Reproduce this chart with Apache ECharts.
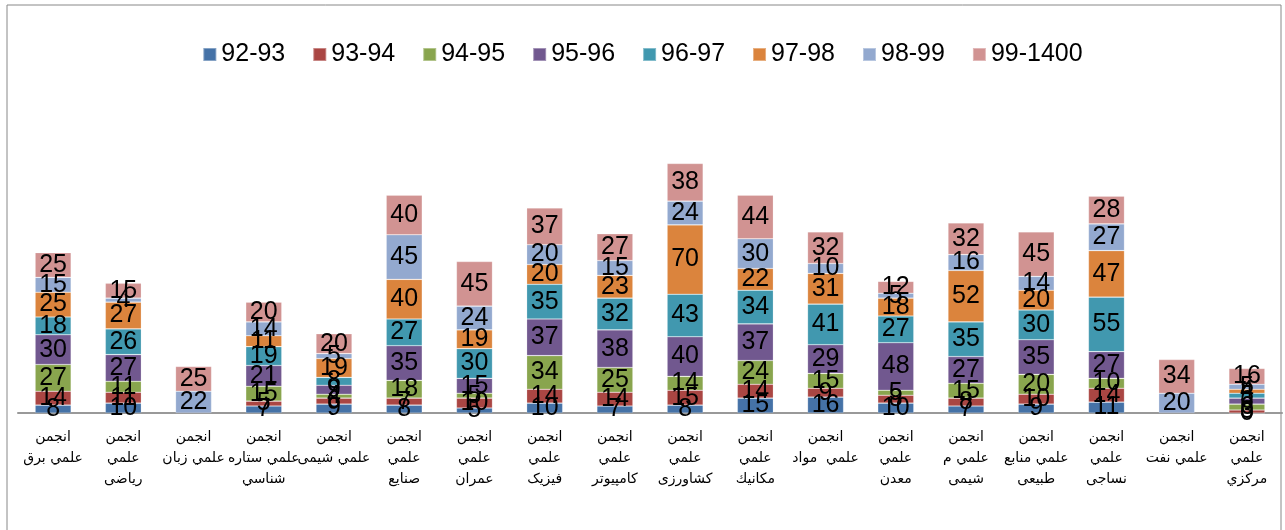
<!DOCTYPE html>
<html>
<head>
<meta charset="utf-8">
<script src="https://cdn.jsdelivr.net/npm/echarts@6/dist/echarts.min.js"></script>
<style>
  html, body { margin: 0; padding: 0; background: #fff; }
  #chart { width: 1285px; height: 530px; }
</style>
</head>
<body>
<div id="chart"></div>
<script>
// category names (line breaks as in the source chart)
const categories = [
  'انجمن\nعلمي برق',
  'انجمن\nعلمي\nرياضی',
  'انجمن\nعلمي زبان',
  'انجمن\nعلمي ستاره\nشناسي',
  'انجمن\nعلمي شیمی',
  'انجمن\nعلمي\nصنايع',
  'انجمن\nعلمي\nعمران',
  'انجمن\nعلمي\nفيزيک',
  'انجمن\nعلمي\nكامپيوتر',
  'انجمن\nعلمي\nكشاورزی',
  'انجمن\nعلمي\nمكانيك',
  'انجمن\nعلمي  مواد',
  'انجمن\nعلمي\nمعدن',
  'انجمن\nعلمي م\nشيمی',
  'انجمن\nعلمي منابع\nطبيعی',
  'انجمن\nعلمي\nنساجی',
  'انجمن\nعلمي نفت',
  'انجمن\nعلمي\nمركزي'
];

const years = ['92-93', '93-94', '94-95', '95-96', '96-97', '97-98', '98-99', '99-1400'];

const y9293 = [8, 10, null, 7, 9, 8, 5, 10, 7, 8, 15, 16, 10, 7, 9, 11, null, 0];
const y9394 = [14, 11, null, 5, 6, 7, 10, 14, 14, 15, 14, 9, 8, 8, 10, 14, null, 3];
const y9495 = [27, 11, null, 15, 4, 18, 5, 34, 25, 14, 24, 15, 5, 15, 20, 10, null, 6];
const y9596 = [30, 27, null, 21, 9, 35, 15, 37, 38, 40, 37, 29, 48, 27, 35, 27, null, 6];
const y9697 = [18, 26, null, 19, 8, 27, 30, 35, 32, 43, 34, 41, 27, 35, 30, 55, null, 5];
const y9798 = [25, 27, null, 11, 19, 40, 19, 20, 23, 70, 22, 31, 18, 52, 20, 47, null, 4];
const y9899 = [15, 4, 22, 14, 5, 45, 24, 20, 15, 24, 30, 10, 5, 16, 14, 27, 20, 5];
const y991400 = [25, 15, 25, 20, 20, 40, 45, 37, 27, 38, 44, 32, 12, 32, 45, 28, 34, 16];

const colors = ['#4572A7', '#AA4643', '#89A54E', '#71588F', '#4198AF', '#DB843D', '#93A9CF', '#D19392'];
const seriesValues = [y9293, y9394, y9495, y9596, y9697, y9798, y9899, y991400];

const numFont = "'Liberation Sans Narrow', 'Liberation Sans', sans-serif";

const chart = echarts.init(document.getElementById('chart'));

const seriesData = years.map((name, i) => ({
  name: name,
  type: 'bar',
  stack: 'total',
  barWidth: 36,
  itemStyle: { color: colors[i], borderColor: 'rgba(255,255,255,0.35)', borderWidth: 0.6 },
  label: {
    show: true,
    position: 'inside',
    color: '#000',
    fontFamily: numFont,
    fontSize: 25
  },
  data: seriesValues[i]
}));

chart.setOption({
  animation: false,
  color: colors,
  graphic: [{
    type: 'rect',
    shape: { x: 7, y: 5, width: 1274, height: 540 },
    style: { fill: 'none', stroke: '#888', lineWidth: 1 },
    silent: true
  }],
  legend: {
    top: 37,
    left: 'center',
    itemWidth: 13,
    itemHeight: 13,
    itemGap: 27,
    icon: 'rect',
    textStyle: { fontFamily: numFont, fontSize: 25, color: '#000' },
    data: years
  },
  grid: { left: 18, right: 3, top: 116, bottom: 117 },
  xAxis: {
    type: 'category',
    data: categories,
    axisLine: { lineStyle: { color: '#999', width: 2 } },
    axisTick: { show: false },
    axisLabel: {
      interval: 0,
      margin: 14,
      color: '#000',
      fontFamily: "'DejaVu Sans', sans-serif",
      fontSize: 14,
      lineHeight: 21
    }
  },
  yAxis: {
    type: 'value',
    min: 0,
    max: 300,
    show: false,
    splitLine: { show: false }
  },
  series: seriesData
});
</script>
</body>
</html>
